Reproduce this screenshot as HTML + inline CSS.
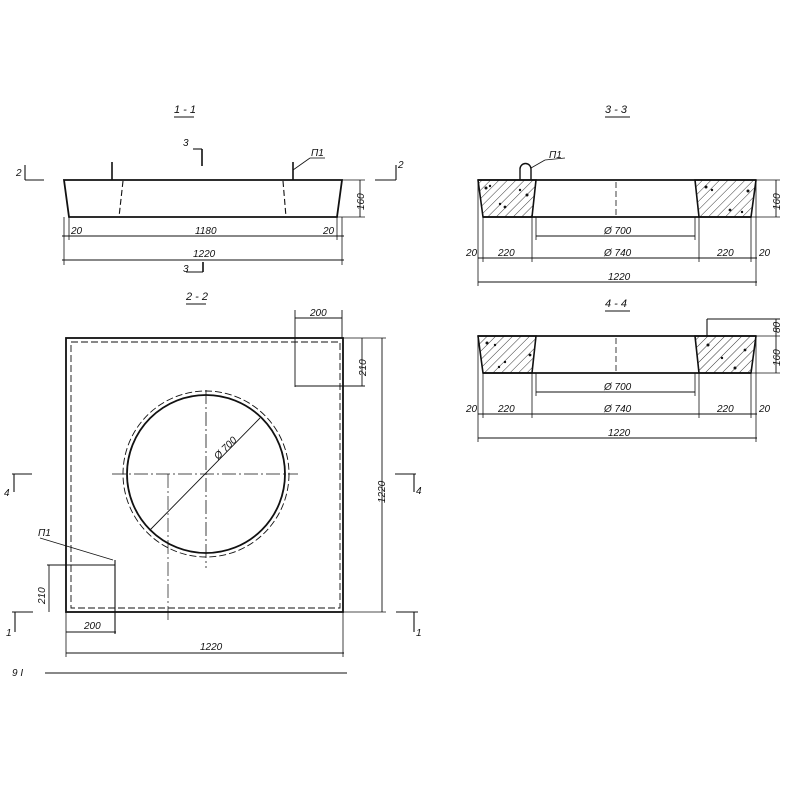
<!DOCTYPE html>
<html><head><meta charset="utf-8">
<style>
html,body{margin:0;padding:0;background:#fff;}
svg{display:block;}
text{font-family:"Liberation Sans",sans-serif;font-style:italic;font-size:10px;fill:#111;}
.t{font-size:11px;}
</style></head><body>
<svg width="800" height="800" viewBox="0 0 800 800" xmlns="http://www.w3.org/2000/svg">
<defs>
<pattern id="h" patternUnits="userSpaceOnUse" width="6" height="6" patternTransform="rotate(45)">
<line x1="0" y1="0" x2="0" y2="6" stroke="#222" stroke-width="0.9"/>
</pattern>
</defs>
<g stroke="#111" fill="none" stroke-width="1.1">

<!-- ===== 1-1 ===== -->
<line x1="174" y1="117" x2="194" y2="117"/>
<polygon points="64,180 342,180 337,217 69,217" stroke-width="1.8"/>
<line x1="123" y1="181" x2="119" y2="217" stroke-dasharray="6,3"/>
<line x1="283" y1="181" x2="286" y2="217" stroke-dasharray="6,3"/>
<line x1="112" y1="162" x2="112" y2="180" stroke-width="1.6"/>
<line x1="293" y1="162" x2="293" y2="180" stroke-width="1.6"/>
<line x1="293" y1="170" x2="310" y2="158" stroke-width="0.8"/>
<line x1="310" y1="158" x2="325" y2="158" stroke-width="0.8"/>
<line x1="25" y1="180" x2="44" y2="180"/><line x1="25" y1="165" x2="25" y2="180"/>
<line x1="375" y1="180" x2="396" y2="180"/><line x1="396" y1="165" x2="396" y2="180"/>
<line x1="193" y1="149" x2="202" y2="149"/><line x1="202" y1="149" x2="202" y2="166" stroke-width="1.6"/>
<line x1="186" y1="272" x2="203" y2="272"/><line x1="203" y1="262" x2="203" y2="272" stroke-width="1.6"/>
<line x1="342" y1="180" x2="365" y2="180" stroke-width="0.8"/>
<line x1="337" y1="217" x2="365" y2="217" stroke-width="0.8"/>
<line x1="360" y1="180" x2="360" y2="217" stroke-width="0.9"/>
<line x1="64" y1="217" x2="64" y2="265" stroke-width="0.8"/>
<line x1="69" y1="217" x2="69" y2="240" stroke-width="0.8"/>
<line x1="337" y1="217" x2="337" y2="240" stroke-width="0.8"/>
<line x1="342" y1="217" x2="342" y2="265" stroke-width="0.8"/>
<line x1="62" y1="236" x2="344" y2="236" stroke-width="0.9"/>
<line x1="62" y1="260" x2="344" y2="260" stroke-width="0.9"/>

<!-- ===== 2-2 plan ===== -->
<line x1="186" y1="304" x2="206" y2="304"/>
<rect x="66" y="338" width="277" height="274" stroke-width="1.8"/>
<rect x="71" y="342" width="269" height="266" stroke-dasharray="7,3" stroke-width="0.9"/>
<circle cx="206" cy="474" r="79" stroke-width="1.8"/>
<circle cx="206" cy="474" r="83" stroke-dasharray="7,3" stroke-width="0.9"/>
<line x1="112" y1="474" x2="298" y2="474" stroke-dasharray="14,3,2,3" stroke-width="0.8"/>
<line x1="206" y1="390" x2="206" y2="568" stroke-dasharray="14,3,2,3" stroke-width="0.8"/>
<line x1="150" y1="530" x2="260" y2="418" stroke-width="0.9"/>
<line x1="168" y1="474" x2="168" y2="620" stroke-dasharray="14,3,2,3" stroke-width="0.7"/>
<line x1="295" y1="318" x2="342" y2="318" stroke-width="0.9"/>
<line x1="295" y1="310" x2="295" y2="387" stroke-width="0.9"/>
<line x1="342" y1="310" x2="342" y2="338" stroke-width="0.9"/>
<line x1="295" y1="386" x2="365" y2="386" stroke-width="0.9"/>
<line x1="343" y1="338" x2="386" y2="338" stroke-width="0.8"/>
<line x1="362" y1="338" x2="362" y2="386" stroke-width="0.9"/>
<line x1="382" y1="338" x2="382" y2="612" stroke-width="0.9"/>
<line x1="343" y1="612" x2="386" y2="612" stroke-width="0.8"/>
<line x1="47" y1="565" x2="115" y2="565" stroke-width="0.9"/>
<line x1="115" y1="560" x2="115" y2="634" stroke-width="1.1"/>
<line x1="49" y1="565" x2="49" y2="612" stroke-width="0.9"/>
<line x1="66" y1="612" x2="66" y2="657" stroke-width="0.8"/>
<line x1="66" y1="632" x2="116" y2="632" stroke-width="0.9"/>
<line x1="343" y1="612" x2="343" y2="657" stroke-width="0.8"/>
<line x1="66" y1="653" x2="344" y2="653" stroke-width="0.9"/>
<line x1="45" y1="673" x2="347" y2="673" stroke-width="0.9"/>
<line x1="40" y1="538" x2="113" y2="560" stroke-width="0.8"/>
<line x1="12" y1="474" x2="32" y2="474"/><line x1="14" y1="474" x2="14" y2="492"/>
<line x1="395" y1="474" x2="416" y2="474"/><line x1="414" y1="474" x2="414" y2="492"/>
<line x1="12" y1="612" x2="33" y2="612"/><line x1="15" y1="612" x2="15" y2="632"/>
<line x1="396" y1="612" x2="418" y2="612"/><line x1="414" y1="612" x2="414" y2="632"/>

<!-- ===== 3-3 ===== -->
<line x1="605" y1="117" x2="630" y2="117"/>
<polygon points="478,180 536,180 532,217 483,217" fill="url(#h)" stroke-width="1.6"/>
<polygon points="695,180 756,180 751,217 699,217" fill="url(#h)" stroke-width="1.6"/>
<line x1="478" y1="180" x2="756" y2="180" stroke-width="1.8"/>
<line x1="483" y1="217" x2="751" y2="217" stroke-width="1.8"/>
<line x1="616" y1="182" x2="616" y2="216" stroke-dasharray="6,3" stroke-width="0.8"/>
<path d="M520,180 L520,169 A5.5,5.5 0 0 1 531,169 L531,180" stroke-width="1.4"/>
<line x1="531" y1="168" x2="545" y2="160" stroke-width="0.8"/>
<line x1="545" y1="160" x2="565" y2="158" stroke-width="0.8"/>
<line x1="756" y1="180" x2="780" y2="180" stroke-width="0.8"/>
<line x1="751" y1="217" x2="780" y2="217" stroke-width="0.8"/>
<line x1="776" y1="180" x2="776" y2="217" stroke-width="0.9"/>
<line x1="536" y1="217" x2="536" y2="240" stroke-width="0.8"/>
<line x1="695" y1="217" x2="695" y2="240" stroke-width="0.8"/>
<line x1="536" y1="236" x2="695" y2="236" stroke-width="0.9"/>
<line x1="483" y1="217" x2="483" y2="262" stroke-width="0.8"/>
<line x1="532" y1="217" x2="532" y2="262" stroke-width="0.8"/>
<line x1="699" y1="217" x2="699" y2="262" stroke-width="0.8"/>
<line x1="751" y1="217" x2="751" y2="262" stroke-width="0.8"/>
<line x1="478" y1="180" x2="478" y2="286" stroke-width="0.8"/>
<line x1="756" y1="180" x2="756" y2="286" stroke-width="0.8"/>
<line x1="478" y1="258" x2="757" y2="258" stroke-width="0.9"/>
<line x1="478" y1="282" x2="757" y2="282" stroke-width="0.9"/>

<!-- ===== 4-4 ===== -->
<line x1="605" y1="311" x2="630" y2="311"/>
<polygon points="478,336 536,336 532,373 483,373" fill="url(#h)" stroke-width="1.6"/>
<polygon points="695,336 756,336 751,373 699,373" fill="url(#h)" stroke-width="1.6"/>
<line x1="478" y1="336" x2="756" y2="336" stroke-width="1.8"/>
<line x1="483" y1="373" x2="751" y2="373" stroke-width="1.8"/>
<line x1="616" y1="338" x2="616" y2="372" stroke-dasharray="6,3" stroke-width="0.8"/>
<line x1="707" y1="319" x2="707" y2="336" stroke-width="1.1"/>
<line x1="707" y1="319" x2="780" y2="319" stroke-width="0.9"/>
<line x1="756" y1="336" x2="780" y2="336" stroke-width="0.8"/>
<line x1="751" y1="373" x2="780" y2="373" stroke-width="0.8"/>
<line x1="776" y1="319" x2="776" y2="373" stroke-width="0.9"/>
<line x1="536" y1="373" x2="536" y2="396" stroke-width="0.8"/>
<line x1="695" y1="373" x2="695" y2="396" stroke-width="0.8"/>
<line x1="536" y1="392" x2="695" y2="392" stroke-width="0.9"/>
<line x1="483" y1="373" x2="483" y2="418" stroke-width="0.8"/>
<line x1="532" y1="373" x2="532" y2="418" stroke-width="0.8"/>
<line x1="699" y1="373" x2="699" y2="418" stroke-width="0.8"/>
<line x1="751" y1="373" x2="751" y2="418" stroke-width="0.8"/>
<line x1="478" y1="336" x2="478" y2="442" stroke-width="0.8"/>
<line x1="756" y1="336" x2="756" y2="442" stroke-width="0.8"/>
<line x1="478" y1="414" x2="757" y2="414" stroke-width="0.9"/>
<line x1="478" y1="438" x2="757" y2="438" stroke-width="0.9"/>
</g>

<g fill="#111">
<circle cx="486" cy="188" r="1.5"/><circle cx="490" cy="186" r="1.2"/><circle cx="505" cy="207" r="1.4"/><circle cx="527" cy="195" r="1.5"/><circle cx="520" cy="190" r="1.2"/><circle cx="500" cy="204" r="1.2"/>
<circle cx="706" cy="187" r="1.5"/><circle cx="712" cy="190" r="1.2"/><circle cx="748" cy="191" r="1.5"/><circle cx="730" cy="210" r="1.4"/><circle cx="742" cy="212" r="1.2"/>
<circle cx="487" cy="343" r="1.5"/><circle cx="495" cy="345" r="1.2"/><circle cx="530" cy="355" r="1.4"/><circle cx="505" cy="362" r="1.2"/><circle cx="499" cy="367" r="1.2"/>
<circle cx="708" cy="345" r="1.5"/><circle cx="745" cy="350" r="1.4"/><circle cx="735" cy="368" r="1.5"/><circle cx="722" cy="358" r="1.2"/>
</g>

<text class="t" x="174" y="113">1 - 1</text>
<text x="183" y="146">3</text>
<text x="16" y="176">2</text>
<text x="398" y="168">2</text>
<text x="311" y="156">П1</text>
<text x="71" y="234">20</text>
<text x="195" y="234">1180</text>
<text x="323" y="234">20</text>
<text x="193" y="257">1220</text>
<text x="183" y="272">3</text>
<text x="364" y="210" transform="rotate(-90 364 210)">160</text>

<text class="t" x="186" y="300">2 - 2</text>
<text x="310" y="316">200</text>
<text x="366" y="376" transform="rotate(-90 366 376)">210</text>
<text x="385" y="503" transform="rotate(-90 385 503)">1220</text>
<text x="218" y="460" transform="rotate(-45 218 460)">Ø 700</text>
<text x="38" y="536">П1</text>
<text x="45" y="604" transform="rotate(-90 45 604)">210</text>
<text x="84" y="629">200</text>
<text x="200" y="650">1220</text>
<text x="4" y="496">4</text>
<text x="416" y="494">4</text>
<text x="6" y="636">1</text>
<text x="416" y="636">1</text>
<text x="12" y="676">9 I</text>

<text class="t" x="605" y="113">3 - 3</text>
<text x="549" y="158">П1</text>
<text x="780" y="210" transform="rotate(-90 780 210)">160</text>
<text x="604" y="234">Ø 700</text>
<text x="466" y="256">20</text>
<text x="498" y="256">220</text>
<text x="604" y="256">Ø 740</text>
<text x="717" y="256">220</text>
<text x="759" y="256">20</text>
<text x="608" y="280">1220</text>

<text class="t" x="605" y="307">4 - 4</text>
<text x="780" y="333" transform="rotate(-90 780 333)">80</text>
<text x="780" y="366" transform="rotate(-90 780 366)">160</text>
<text x="604" y="390">Ø 700</text>
<text x="466" y="412">20</text>
<text x="498" y="412">220</text>
<text x="604" y="412">Ø 740</text>
<text x="717" y="412">220</text>
<text x="759" y="412">20</text>
<text x="608" y="436">1220</text>
</svg>
</body></html>
